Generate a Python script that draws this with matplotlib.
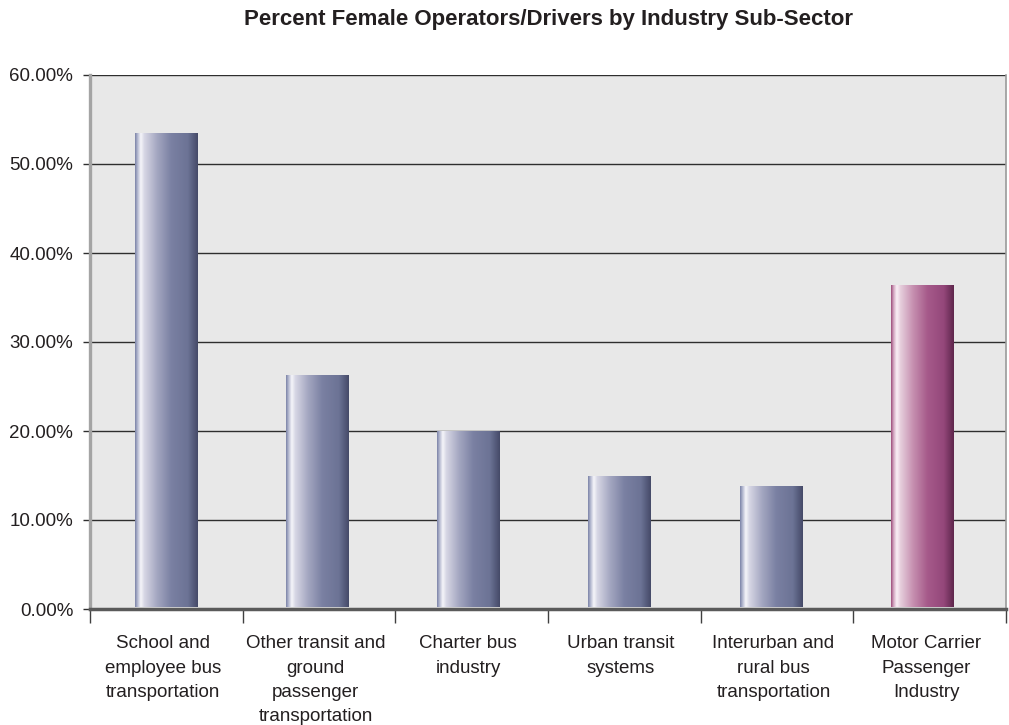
import numpy as np
import matplotlib.pyplot as plt
from matplotlib.colors import LinearSegmentedColormap
from matplotlib.ticker import FuncFormatter, MultipleLocator

plt.rcParams['font.family'] = ['Liberation Sans', 'DejaVu Sans']
TEXT = "#231f20"

categories = [
    "School and\nemployee bus\ntransportation",
    "Other transit and\nground\npassenger\ntransportation",
    "Charter bus\nindustry",
    "Urban transit\nsystems",
    "Interurban and\nrural bus\ntransportation",
    "Motor Carrier\nPassenger\nIndustry",
]
values = [0.534, 0.262, 0.199, 0.149, 0.137, 0.363]
highlight = [False, False, False, False, False, True]

blue_cmap = LinearSegmentedColormap.from_list("blue_cyl", [
    (0.00, "#7c84a8"), (0.04, "#b4b8d0"), (0.09, "#f6f6fa"), (0.15, "#d6d6e4"),
    (0.35, "#a4a7c1"), (0.58, "#7a80a2"), (0.84, "#6c7395"), (1.00, "#454a68")])
pink_cmap = LinearSegmentedColormap.from_list("pink_cyl", [
    (0.00, "#9c4c7a"), (0.04, "#d2a6c0"), (0.09, "#faf0f6"), (0.15, "#e6cedc"),
    (0.35, "#c690b0"), (0.58, "#a65a8a"), (0.84, "#94477a"), (1.00, "#5e264c")])

fig = plt.figure(figsize=(10.09, 7.25), dpi=100)
ax = fig.add_axes([90 / 1009, 116 / 725, 916 / 1009, 534 / 725])
ax.set_facecolor("#e8e8e8")

n = len(categories)
ax.set_xlim(0, n)
ax.set_ylim(0, 0.60)

# cylinders sit slightly deeper than the front axis, so their spacing is a bit tighter
depth_scale = 0.99
bar_w = 0.41
grad = np.linspace(0, 1, 256).reshape(1, -1)
for i, (v, hl) in enumerate(zip(values, highlight)):
    xc = 0.5 + i * depth_scale
    x0 = xc - bar_w / 2
    ax.imshow(grad, cmap=pink_cmap if hl else blue_cmap, aspect='auto',
              extent=(x0, x0 + bar_w, 0.002, v), zorder=3, interpolation='bilinear')

ax.yaxis.set_major_locator(MultipleLocator(0.10))
ax.yaxis.set_major_formatter(FuncFormatter(lambda y, _: f"{y * 100:.2f}%"))
ax.grid(axis='y', color="#2e2e2e", linewidth=1.0, zorder=1)
ax.set_axisbelow(True)

ax.set_xticks(np.arange(n + 1))
ax.set_xticklabels([])
ax.set_xticks(np.arange(n) + 0.5 - 0.023, minor=True)
ax.set_xticklabels(categories, minor=True, fontsize=13.5, linespacing=1.55, color=TEXT)
ax.tick_params(axis='x', which='major', length=10, width=1, color="#404040", direction='out')
ax.tick_params(axis='x', which='minor', length=0, pad=19)
ax.tick_params(axis='y', length=5, width=1, color="#2e2e2e", labelsize=13.5,
               labelcolor=TEXT, pad=7)

ax.spines['top'].set_visible(False)
ax.spines['right'].set_color("#9a9a9a")
ax.spines['right'].set_linewidth(1.2)
ax.spines['left'].set_color("#a4a4a4")
ax.spines['left'].set_linewidth(2.4)
ax.spines['bottom'].set_color("#5a5a5a")
ax.spines['bottom'].set_linewidth(2.5)

fig.text(548 / 1009, 1 - 20 / 725, "Percent Female Operators/Drivers by Industry Sub-Sector",
         ha='center', va='center', fontsize=16, fontweight='bold', color=TEXT)

fig.savefig("out.png", dpi=100)
